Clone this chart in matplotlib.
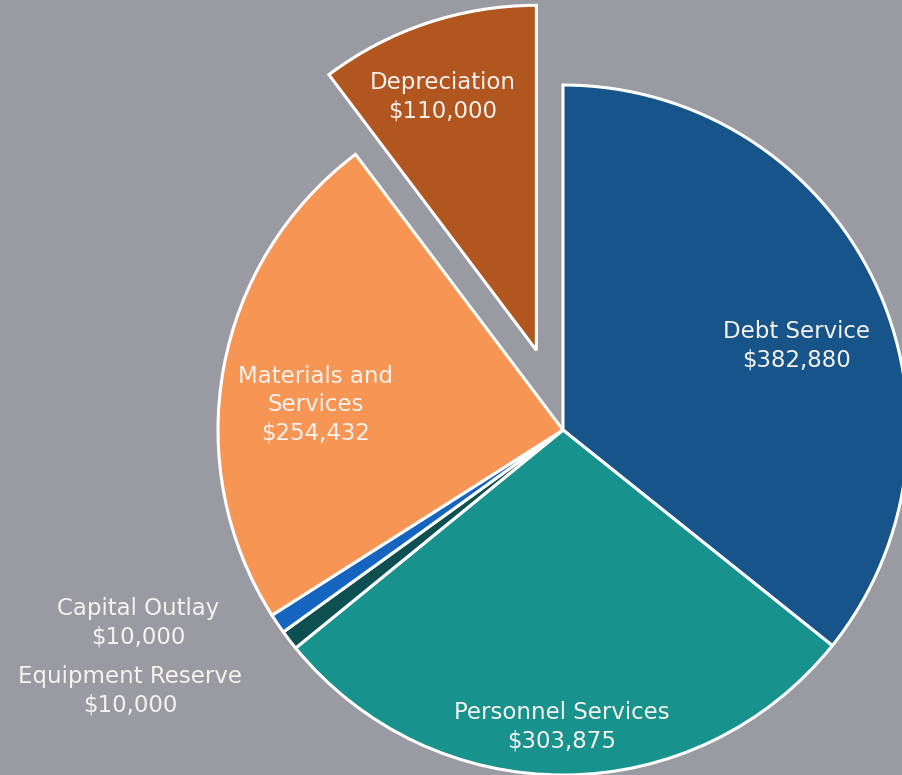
import matplotlib
matplotlib.use("Agg")
import matplotlib.pyplot as plt

# --- data (clockwise from 12 o'clock) ---
categories = ["Debt Service", "Personnel Services", "Equipment Reserve",
              "Capital Outlay", "Materials and\nServices", "Depreciation"]
amounts = [382880, 303875, 10000, 10000, 254432, 110000]
colors = ["#17548a", "#17928c", "#0e4f52", "#1565c0", "#f79654", "#b2561f"]

bg = "#9a9aa2"
txt = "#f7f2ee"

W, H = 903, 775
fig = plt.figure(figsize=(W / 100, H / 100), dpi=100)
fig.patch.set_facecolor(bg)
ax = fig.add_axes([0, 0, 1, 1])
ax.set_facecolor(bg)

cx, cy, r = 563, H - 430, 345
# explode is in data units (pixels here), not a fraction of the radius
explode = [0, 0, 0, 0, 0, 84]
wedges, _ = ax.pie(amounts, colors=colors, explode=explode, startangle=90,
                   counterclock=False, center=(cx, cy), radius=r,
                   wedgeprops=dict(edgecolor="white", linewidth=2.2))

# pie() sets its own limits, so put the pixel frame back afterwards
ax.set_xlim(0, W)
ax.set_ylim(0, H)
ax.set_aspect("equal")
ax.axis("off")

fs = 16.5
def money(v):
    return "${:,}".format(v)

def label(x, y, i):
    ax.text(x, H - y, categories[i] + "\n" + money(amounts[i]), ha="center",
            va="center", color=txt, fontsize=fs, linespacing=1.3)

label(797, 346, 0)
label(562, 727, 1)
label(316, 405, 4)
label(443, 97, 5)
label(138, 623, 3)
label(130, 691, 2)

# title, cut off by the top of the image as in the source
ax.text(538, H + 6, "Expenditure Budget", ha="left", va="baseline",
        color=txt, fontsize=21, clip_on=False)

fig.savefig("out.png", dpi=100, facecolor=bg)
